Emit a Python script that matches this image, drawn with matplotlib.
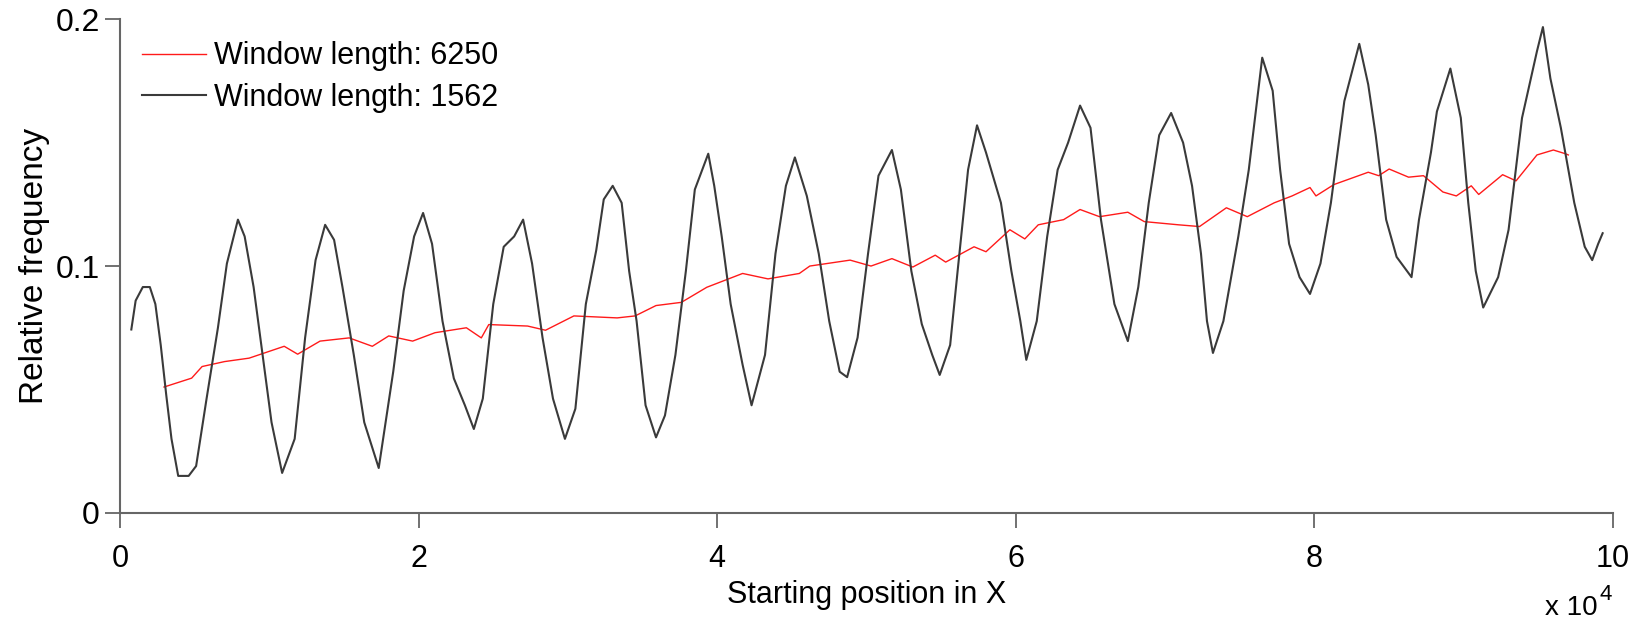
import matplotlib
matplotlib.use("Agg")
from matplotlib import pyplot

# starting positions in units of 1e4, relative frequencies
red_x = [0.295, 0.48, 0.55, 0.70, 0.865, 1.10, 1.19, 1.34, 1.535, 1.69,
         1.80, 1.96, 2.11, 2.32, 2.42, 2.47, 2.73, 2.85, 3.04, 3.33,
         3.45, 3.59, 3.76, 3.93, 4.17, 4.34, 4.55, 4.62, 4.89, 5.03,
         5.17, 5.31, 5.46, 5.53, 5.72, 5.80, 5.96, 6.06, 6.15, 6.32,
         6.43, 6.56, 6.75, 6.86, 7.09, 7.23, 7.41, 7.55, 7.73, 7.85,
         7.97, 8.01, 8.13, 8.36, 8.43, 8.50, 8.63, 8.73, 8.86, 8.95,
         9.05, 9.10, 9.26, 9.35, 9.49, 9.60, 9.68, 9.70]
red_y = [0.051, 0.0546, 0.0593, 0.0613, 0.0627, 0.0675, 0.0643, 0.0696, 0.0709, 0.0675,
         0.0717, 0.0696, 0.073, 0.075, 0.0709, 0.0763, 0.0757, 0.074, 0.0798, 0.079,
         0.0798, 0.084, 0.0853, 0.0914, 0.097, 0.0948, 0.097, 0.100, 0.1024, 0.100,
         0.103, 0.0996, 0.1044, 0.1016, 0.1078, 0.1058, 0.1147, 0.111, 0.1167, 0.1188,
         0.1229, 0.120, 0.1218, 0.118, 0.1167, 0.116, 0.1236, 0.120, 0.1256, 0.1284,
         0.1318, 0.1284, 0.133, 0.138, 0.1366, 0.1393, 0.136, 0.1366, 0.130, 0.1284,
         0.1325, 0.129, 0.137, 0.1345, 0.145, 0.147, 0.1455, 0.145]

black_x = [0.076, 0.105, 0.153, 0.20, 0.237, 0.273, 0.31, 0.345, 0.39, 0.46,
           0.51, 0.58, 0.656, 0.716, 0.79, 0.835, 0.895, 0.955, 1.015, 1.086,
           1.17, 1.24, 1.31, 1.374, 1.434, 1.49, 1.566, 1.636, 1.733, 1.83,
           1.90, 1.97, 2.03, 2.09, 2.16, 2.236, 2.31, 2.37, 2.43, 2.50,
           2.57, 2.64, 2.70, 2.76, 2.83, 2.90, 2.98, 3.05, 3.12, 3.19,
           3.24, 3.30, 3.36, 3.41, 3.46, 3.52, 3.59, 3.65, 3.72, 3.79,
           3.85, 3.94, 3.98, 4.03, 4.09, 4.17, 4.23, 4.32, 4.39, 4.46,
           4.52, 4.60, 4.68, 4.75, 4.82, 4.87, 4.94, 5.01, 5.08, 5.17,
           5.23, 5.30, 5.37, 5.44, 5.49, 5.56, 5.61, 5.68, 5.74, 5.80,
           5.90, 5.97, 6.03, 6.07, 6.14, 6.21, 6.28, 6.35, 6.43, 6.50,
           6.57, 6.66, 6.75, 6.82, 6.89, 6.96, 7.04, 7.12, 7.18, 7.24,
           7.28, 7.32, 7.39, 7.49, 7.56, 7.65, 7.72, 7.77, 7.83, 7.90,
           7.97, 8.04, 8.11, 8.20, 8.30, 8.36, 8.41, 8.48, 8.55, 8.65,
           8.70, 8.78, 8.82, 8.91, 8.98, 9.03, 9.08, 9.13, 9.23, 9.30,
           9.39, 9.49, 9.53, 9.58, 9.65, 9.74, 9.81, 9.86, 9.90, 9.93]
black_y = [0.0743, 0.086, 0.0915, 0.0915, 0.0846, 0.068, 0.0477, 0.030, 0.015, 0.015,
           0.019, 0.0463, 0.075, 0.101, 0.1188, 0.112, 0.0915, 0.064, 0.0367, 0.0162,
           0.030, 0.071, 0.1024, 0.1167, 0.1106, 0.0915, 0.064, 0.0367, 0.0182, 0.0572,
           0.090, 0.112, 0.1215, 0.109, 0.0777, 0.0545, 0.0436, 0.034, 0.0463, 0.0846,
           0.1078, 0.112, 0.1188, 0.101, 0.071, 0.0463, 0.030, 0.0422, 0.0846, 0.1065,
           0.127, 0.1325, 0.1256, 0.098, 0.0777, 0.0436, 0.0306, 0.0395, 0.064, 0.098,
           0.131, 0.1455, 0.1325, 0.112, 0.0846, 0.060, 0.0436, 0.064, 0.105, 0.1325,
           0.144, 0.1284, 0.105, 0.0777, 0.0572, 0.055, 0.071, 0.105, 0.1366, 0.147,
           0.131, 0.098, 0.0765, 0.064, 0.0559, 0.068, 0.098, 0.139, 0.157, 0.146,
           0.1256, 0.098, 0.0777, 0.062, 0.0777, 0.112, 0.139, 0.150, 0.165, 0.156,
           0.1188, 0.0846, 0.0696, 0.0915, 0.1256, 0.153, 0.162, 0.150, 0.1325, 0.105,
           0.0777, 0.0648, 0.0777, 0.112, 0.139, 0.1844, 0.171, 0.139, 0.109, 0.0955,
           0.0887, 0.101, 0.1256, 0.1668, 0.190, 0.1735, 0.153, 0.1188, 0.1037, 0.0955,
           0.1188, 0.146, 0.1626, 0.180, 0.160, 0.1256, 0.098, 0.0832, 0.0955, 0.1147,
           0.160, 0.187, 0.1968, 0.176, 0.156, 0.1256, 0.1078, 0.1024, 0.109, 0.1133]

x_ticks = [0, 2, 4, 6, 8, 10]
y_ticks = [0, 0.1, 0.2]
y_ticklabels = ["0", "0.1", "0.2"]

pyplot.rcParams["font.family"] = ["Liberation Sans", "DejaVu Sans"]
axcol = "#666666"

fig = pyplot.figure(figsize=(16.39, 6.18), dpi=100)
ax = fig.add_axes([0.0732, 0.170, 0.911, 0.799])

ax.plot(red_x, red_y, color="#ff1a1a", lw=1.0, label="Window length: 6250")
ax.plot(black_x, black_y, color="#3a3a3a", lw=1.5, label="Window length: 1562")

ax.set_xlim(0, 10)
ax.set_ylim(0, 0.2)
ax.set_xticks(x_ticks)
ax.set_yticks(y_ticks)
ax.set_yticklabels(y_ticklabels)
ax.spines["top"].set_visible(False)
ax.spines["right"].set_visible(False)
for s in ("left", "bottom"):
    ax.spines[s].set_color(axcol)
    ax.spines[s].set_linewidth(1.5)
ax.tick_params(axis="x", direction="out", length=10.5, width=1.3, color=axcol,
               labelsize=22, pad=12)
ax.tick_params(axis="y", direction="out", length=10.5, width=1.3, color=axcol,
               labelsize=23, pad=4)

ax.set_xlabel("Starting position in X", fontsize=22, labelpad=4)
ax.set_ylabel("Relative frequency", fontsize=24, labelpad=4)

ax.legend(loc="upper left", bbox_to_anchor=(0.0147, 0.955), frameon=False,
          fontsize=22, handlelength=2.1, handletextpad=0.25, labelspacing=0.38,
          borderpad=0, borderaxespad=0)

fig.text(1598 / 1639, 3 / 618, "x 10", fontsize=20, ha="right", va="baseline")
fig.text(1599 / 1639, 18 / 618, "4", fontsize=16, ha="left", va="baseline")

pyplot.savefig("out.png", dpi=100)
